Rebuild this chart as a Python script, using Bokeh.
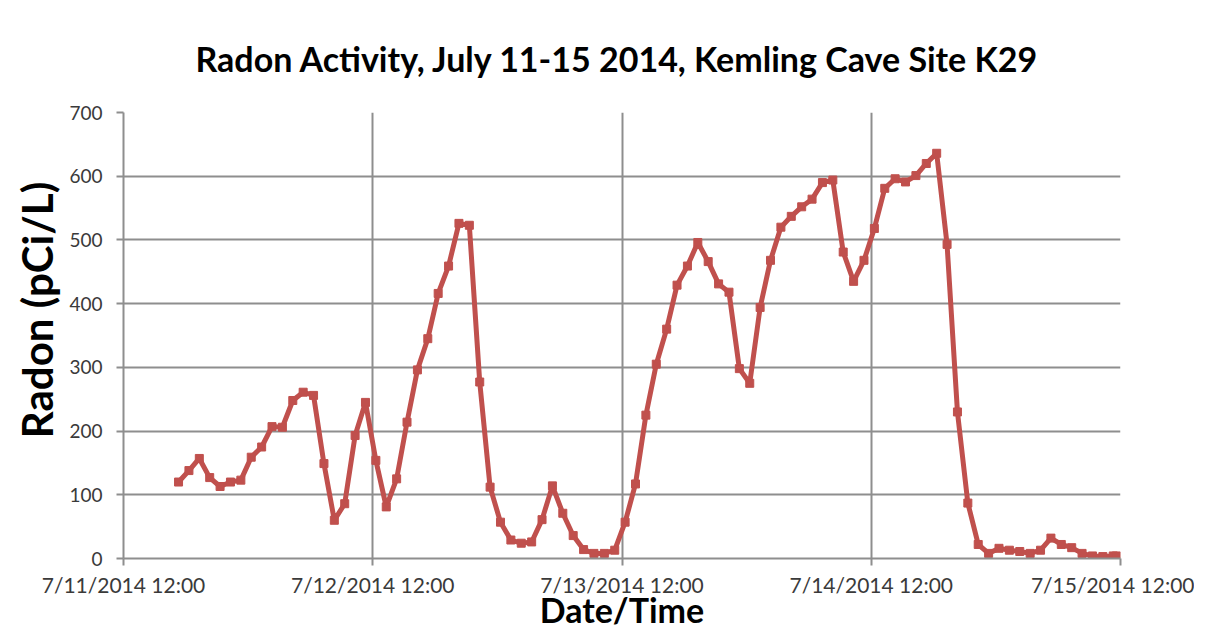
import pandas as pd
from bokeh.plotting import figure
from bokeh.models import FixedTicker, DatetimeTickFormatter, Range1d
from bokeh.embed import file_html
from bokeh.resources import INLINE

start_time = "2014-07-11 17:18"
radon = [120, 138, 157, 127, 113, 120, 123, 159, 175, 207, 206, 248, 261, 256, 149, 60,
         86, 193, 245, 154, 81, 125, 214, 296, 345, 416, 459, 526, 523, 277, 112, 57,
         29, 24, 26, 61, 114, 71, 36, 14, 8, 8, 13, 57, 117, 225, 305, 360, 429, 459,
         496, 466, 431, 418, 298, 275, 394, 468, 520, 537, 552, 564, 590, 594, 481, 435,
         468, 518, 581, 596, 591, 601, 620, 636, 493, 230, 87, 22, 8, 16, 13, 11, 8, 13,
         32, 22, 17, 8, 4, 3, 4]
last_time = "2014-07-15 11:36"
last_radon = 4
tick_dates = ["2014-07-11 12:00", "2014-07-12 12:00", "2014-07-13 12:00",
              "2014-07-14 12:00", "2014-07-15 12:00"]
y_ticks = [0, 100, 200, 300, 400, 500, 600, 700]

times = list(pd.date_range(start_time, periods=len(radon), freq="h")) + [pd.Timestamp(last_time)]
values = radon + [last_radon]
tick_ts = [pd.Timestamp(t) for t in tick_dates]
tick_ms = [t.value / 1e6 for t in tick_ts]

RED = "#C0504D"
GRID = "#8E8E8E"
TXT = "#3A3A3A"

p = figure(width=1194, height=632, x_axis_type="datetime", output_backend="svg",
           toolbar_location=None,
           x_range=Range1d(tick_ms[0], tick_ms[-1]), y_range=Range1d(0, 700),
           min_border_left=123, min_border_right=74, min_border_top=112, min_border_bottom=60)

p.title.text = "Radon Activity, July 11-15 2014, Kemling Cave Site K29"
p.title.align = "left"
p.title.offset = 72
p.title.text_font = "Lato"
p.title.text_font_size = "34px"
p.title.text_font_style = "bold"
p.title.text_color = "#000000"
p.title.standoff = 68

p.line(times, values, line_width=5, color=RED)
p.scatter(times, values, marker="square", size=8, color=RED)

p.xaxis.ticker = FixedTicker(ticks=tick_ms)
p.xaxis.formatter = DatetimeTickFormatter(hours="%-m/%-d/%Y %H:%M", days="%-m/%-d/%Y %H:%M",
                                          months="%-m/%-d/%Y %H:%M", years="%-m/%-d/%Y %H:%M")
p.yaxis.ticker = FixedTicker(ticks=y_ticks)

for ax in (p.xaxis, p.yaxis):
    ax.axis_line_color = GRID
    ax.axis_line_width = 2
    ax.major_tick_line_color = GRID
    ax.major_tick_line_width = 2
    ax.major_tick_out = 7
    ax.major_tick_in = 0
    ax.minor_tick_line_color = None
    ax.major_label_text_font = "Lato"
    ax.major_label_text_color = TXT
    ax.axis_label_text_font = "Lato"
    ax.axis_label_text_font_style = "bold"
    ax.axis_label_text_color = "#000000"

p.xaxis.major_label_text_font_size = "21px"
p.yaxis.major_label_text_font_size = "19px"
p.xaxis.axis_label = "Date/Time"
p.xaxis.axis_label_text_font_size = "34px"
p.xaxis.major_label_standoff = 6
p.xaxis.axis_label_standoff = -11
p.yaxis.axis_label = "\u00a0\u00a0\u00a0\u00a0\u00a0Radon (pCi/L)"
p.yaxis.axis_label_text_font_size = "42px"
p.yaxis.major_label_standoff = 14
p.yaxis.axis_label_standoff = 4

p.xgrid.grid_line_color = GRID
p.xgrid.grid_line_width = 2
p.ygrid.grid_line_color = GRID
p.ygrid.grid_line_width = 2
p.outline_line_color = None

open("out.html", "w").write(file_html(p, INLINE))
